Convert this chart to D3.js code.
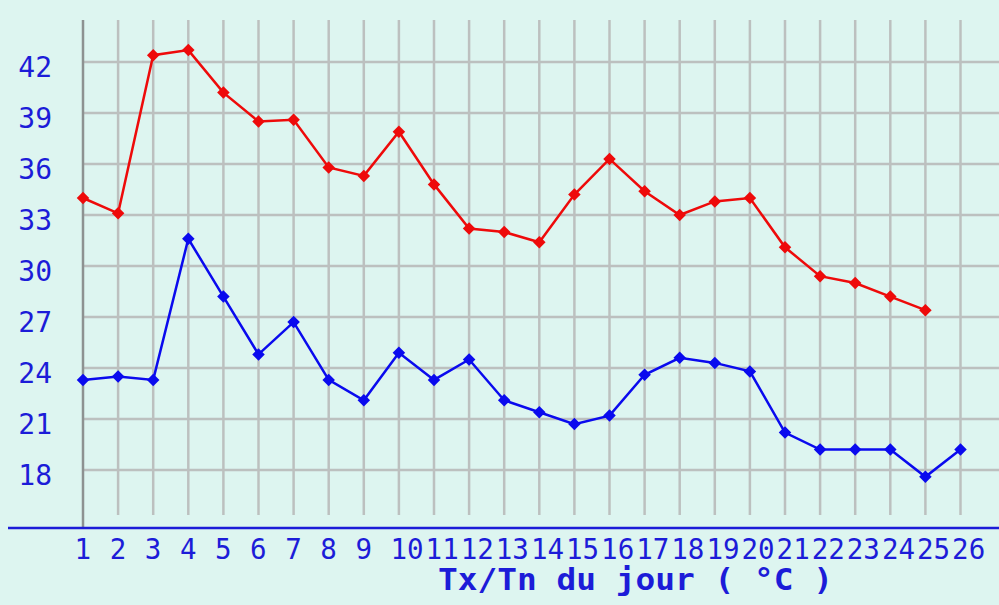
<!DOCTYPE html>
<html>
<head>
<meta charset="utf-8">
<script src="https://cdn.jsdelivr.net/npm/d3@7"></script>
<style>
  html, body { margin: 0; padding: 0; background: #ddf5f0; }
  svg { display: block; }
</style>
</head>
<body>
<div id="chart"></div>
<script>
const width = 999;
const height = 605;

const days = ["1","2","3","4","5","6","7","8","9","10","11","12","13","14","15","16","17","18","19","20","21","22","23","24","25","26"];
const tx = [34.0, 33.1, 42.4, 42.7, 40.2, 38.5, 38.6, 35.8, 35.3, 37.9, 34.8, 32.2, 32.0, 31.4, 34.2, 36.3, 34.4, 33.0, 33.8, 34.0, 31.1, 29.4, 29.0, 28.2, 27.4, null];
const tn = [23.3, 23.5, 23.3, 31.6, 28.2, 24.8, 26.7, 23.3, 22.1, 24.9, 23.3, 24.5, 22.1, 21.4, 20.7, 21.2, 23.6, 24.6, 24.3, 23.8, 20.2, 19.2, 19.2, 19.2, 17.6, 19.2];
const yTicks = [18, 21, 24, 27, 30, 33, 36, 39, 42];
const title = "Tx/Tn du jour ( °C )";

const blue = "#1c1cd8";
const gridColor = "#bcc0bf";

const svg = d3
  .select("#chart")
  .append("svg")
  .attr("width", width)
  .attr("height", height);

svg.append("rect").attr("width", width).attr("height", height).attr("fill", "#ddf5f0");

const x = d3.scaleLinear().domain([1, 26]).range([83, 960.5]);
const y = d3.scaleLinear().domain([18, 42]).range([470, 62]);

// grid
svg
  .append("g")
  .selectAll("line")
  .data(yTicks)
  .join("line")
  .attr("x1", x(1))
  .attr("x2", width)
  .attr("y1", (d) => y(d))
  .attr("y2", (d) => y(d))
  .attr("stroke", gridColor)
  .attr("stroke-width", 2.5);

svg
  .append("g")
  .selectAll("line")
  .data(days.slice(1))
  .join("line")
  .attr("x1", (d) => x(+d))
  .attr("x2", (d) => x(+d))
  .attr("y1", 20)
  .attr("y2", 515)
  .attr("stroke", gridColor)
  .attr("stroke-width", 2.5);

// left axis line (gray) and bottom axis (blue)
svg
  .append("line")
  .attr("x1", x(1))
  .attr("x2", x(1))
  .attr("y1", 20)
  .attr("y2", 528)
  .attr("stroke", "#8d9291")
  .attr("stroke-width", 2.5);

svg
  .append("line")
  .attr("x1", 8)
  .attr("x2", width)
  .attr("y1", 528)
  .attr("y2", 528)
  .attr("stroke", blue)
  .attr("stroke-width", 2.5);

// y labels
svg
  .append("g")
  .selectAll("text")
  .data(yTicks)
  .join("text")
  .attr("x", 52)
  .attr("y", (d) => y(d) + 15)
  .attr("text-anchor", "end")
  .style("font-family", "'DejaVu Sans Mono', monospace")
  .style("font-size", "28px")
  .style("fill", blue)
  .text((d) => d);

// x labels
svg
  .append("g")
  .selectAll("text")
  .data(days)
  .join("text")
  .attr("x", (d) => x(+d) - 8.4)
  .attr("y", 559)
  .attr("text-anchor", "start")
  .style("font-family", "'DejaVu Sans Mono', monospace")
  .style("font-size", "27.5px")
  .style("fill", blue)
  .text((d) => d);

svg
  .append("text")
  .attr("x", 438)
  .attr("y", 590)
  .attr("textLength", 395)
  .attr("lengthAdjust", "spacingAndGlyphs")
  .style("font-family", "'DejaVu Sans Mono', monospace")
  .style("font-weight", "bold")
  .style("font-size", "30px")
  .style("fill", blue)
  .text(title);

// series
const series = [
  { name: "tx", values: tx, color: "#ee0a0a" },
  { name: "tn", values: tn, color: "#0a0aee" },
];

const line = d3
  .line()
  .defined((d) => d.v != null)
  .x((d) => x(d.day))
  .y((d) => y(d.v));

const diamond = d3.symbol().type(d3.symbolDiamond2).size(100);

series.forEach((s) => {
  const pts = s.values.map((v, i) => ({ day: +days[i], v: v }));
  svg
    .append("path")
    .datum(pts)
    .attr("d", line)
    .attr("fill", "none")
    .attr("stroke", s.color)
    .attr("stroke-width", 2.5);

  svg
    .append("g")
    .selectAll("path")
    .data(pts.filter((d) => d.v != null))
    .join("path")
    .attr("d", diamond)
    .attr("transform", (d) => `translate(${x(d.day)},${y(d.v)})`)
    .attr("fill", s.color);
});
</script>
</body>
</html>
